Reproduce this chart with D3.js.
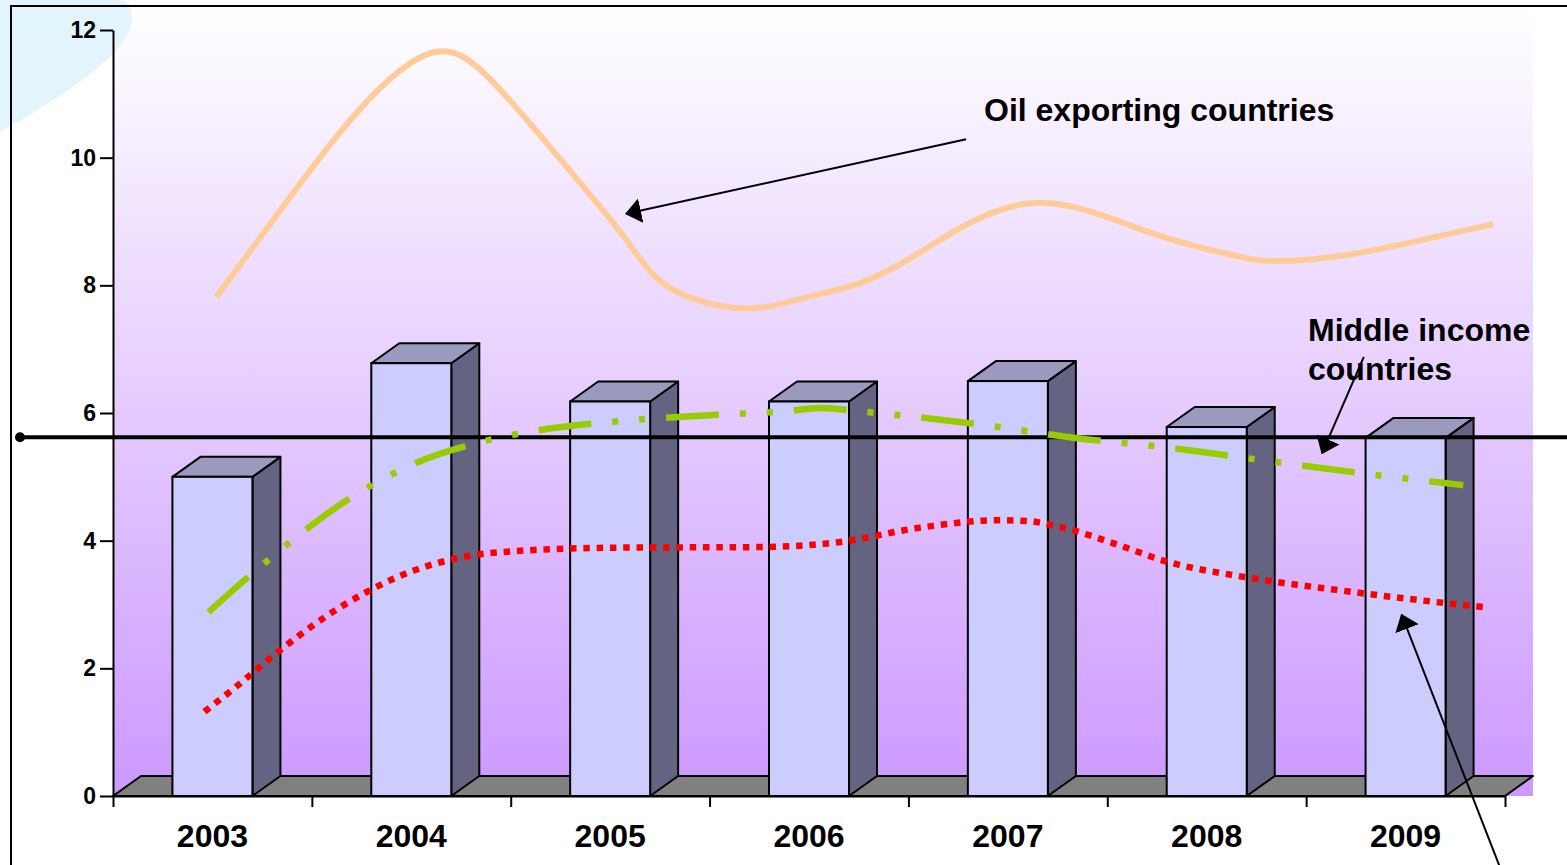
<!DOCTYPE html>
<html>
<head>
<meta charset="utf-8">
<script src="https://cdn.jsdelivr.net/npm/d3@7"></script>
<style>
  body { margin: 0; background: #ffffff; }
  svg { display: block; }
  text { font-family: "Liberation Sans", Arial, Helvetica, sans-serif; font-weight: bold; fill: #000; }
</style>
</head>
<body>
<svg id="chart" width="1567" height="865"></svg>
<script>
// ---- data ----
const years = [2003, 2004, 2005, 2006, 2007, 2008, 2009];
const barValues = [5.00, 6.78, 6.18, 6.18, 6.50, 5.78, 5.61];
const yTicks = [0, 2, 4, 6, 8, 10, 12];
const referenceValue = 5.62;

// Oil exporting countries (smoothed trend, sampled along the curve)
const oilYears  = [2003.02, 2003.39, 2003.73, 2004.10, 2004.40, 2004.74, 2005.07, 2005.30, 2005.67, 2005.97, 2006.27,
                   2006.56, 2006.81, 2007.13, 2007.47, 2007.78, 2008.12, 2008.36, 2008.71, 2009.04, 2009.44];
const oilValues = [7.82, 9.38, 10.72, 11.64, 11.22, 10.01, 8.76, 7.96, 7.64, 7.80, 8.05,
                   8.52, 8.98, 9.29, 9.10, 8.76, 8.48, 8.38, 8.48, 8.68, 8.96];

// Middle income countries
const midYears  = [2002.98, 2003.27, 2003.68, 2004.01, 2004.37, 2004.62, 2005.00, 2005.52, 2005.89, 2006.06,
                   2006.24, 2006.50, 2006.88, 2007.39, 2007.77, 2008.28, 2008.77, 2009.29];
const midValues = [2.88, 3.67, 4.64, 5.20, 5.56, 5.72, 5.86, 5.97, 6.03, 6.08,
                   6.03, 5.95, 5.81, 5.59, 5.47, 5.26, 5.06, 4.87];

// Low income countries
const lowYears  = [2002.96, 2003.13, 2003.33, 2003.66, 2004.02, 2004.21, 2004.41, 2005.02, 2005.76, 2006.16,
                   2006.55, 2006.95, 2007.09, 2007.28, 2007.54, 2007.79, 2008.19, 2008.65, 2009.12, 2009.39];
const lowValues = [1.32, 1.74, 2.26, 2.99, 3.54, 3.71, 3.81, 3.89, 3.90, 3.98,
                   4.20, 4.32, 4.31, 4.20, 3.95, 3.68, 3.43, 3.23, 3.05, 2.96];

// Callout arrows: [tail year, tail value] -> [tip year, tip value]
const oilArrow = [[2006.79, 10.29], [2005.08, 9.12]];
const midArrow = [[2008.79, 6.88], [2008.58, 5.37]];
const lowArrow = [[2009.48, -1.16], [2008.98, 2.84]];

// ---- layout ----
const W = 1567, H = 865;
const plot = { left: 113, right: 1505, top: 30, bottom: 796 };
const depth = { dx: 28, dy: 20 };
const barWidth = 80;

const svg = d3.select("#chart");

const x = d3.scaleBand().domain(years).range([plot.left, plot.right]).padding(0);
const y = d3.scaleLinear().domain([0, 12]).range([plot.bottom, plot.top]);
const center = yr => x(yr) + x.bandwidth() / 2;
const xLine = d3.scaleLinear().domain([2003, 2009]).range([center(2003), center(2009)]);

// ---- defs ----
const defs = svg.append("defs");
const grad = defs.append("linearGradient")
  .attr("id", "wallGrad").attr("gradientUnits", "userSpaceOnUse")
  .attr("x1", 0).attr("y1", 6).attr("x2", 0).attr("y2", plot.bottom);
grad.append("stop").attr("offset", 0).attr("stop-color", "#ffffff");
grad.append("stop").attr("offset", 1).attr("stop-color", "#cc99ff");

defs.append("marker")
  .attr("id", "arrowHead").attr("viewBox", "0 0 16 25")
  .attr("refX", 15).attr("refY", 12.5)
  .attr("markerWidth", 16).attr("markerHeight", 25)
  .attr("markerUnits", "userSpaceOnUse").attr("orient", "auto")
  .append("path").attr("d", "M0,0 L16,12.5 L0,25 Z").attr("fill", "#000");

// ---- back wall ----
svg.append("rect")
  .attr("x", plot.left).attr("y", 6)
  .attr("width", plot.right + depth.dx - plot.left)
  .attr("height", plot.bottom - 6)
  .attr("fill", "url(#wallGrad)");

// decorative swoosh in the corner
svg.append("path")
  .attr("d", "M0,0 L122,0 C140,10 132,34 112,55 C82,84 42,108 0,132 Z")
  .attr("fill", "#e3f5fc");

// frame
svg.append("path")
  .attr("d", `M11,${H + 5} L11,6 L${W + 5},6`)
  .attr("fill", "none").attr("stroke", "#000").attr("stroke-width", 2);

// ---- floor ----
svg.append("polygon")
  .attr("points", [
    [plot.left, plot.bottom], [plot.right, plot.bottom],
    [plot.right + depth.dx, plot.bottom - depth.dy], [plot.left + depth.dx, plot.bottom - depth.dy]
  ].map(p => p.join(",")).join(" "))
  .attr("fill", "#808080").attr("stroke", "#000").attr("stroke-width", 2)
  .attr("stroke-linejoin", "round");

// ---- 3D bars ----
const bars = svg.append("g").attr("class", "bars")
  .selectAll("g").data(years.map((yr, i) => ({ yr, v: barValues[i] })))
  .join("g");

bars.each(function(d) {
  const g = d3.select(this);
  const x0 = center(d.yr) - barWidth / 2, x1 = x0 + barWidth;
  const yt = y(d.v), yb = y(0);
  const pts = a => a.map(p => p.join(",")).join(" ");
  g.append("polygon")
    .attr("points", pts([[x1, yt], [x1 + depth.dx, yt - depth.dy], [x1 + depth.dx, yb - depth.dy], [x1, yb]]))
    .attr("fill", "#646482").attr("stroke", "#000").attr("stroke-width", 2).attr("stroke-linejoin", "round");
  g.append("polygon")
    .attr("points", pts([[x0, yt], [x0 + depth.dx, yt - depth.dy], [x1 + depth.dx, yt - depth.dy], [x1, yt]]))
    .attr("fill", "#9a9abf").attr("stroke", "#000").attr("stroke-width", 2).attr("stroke-linejoin", "round");
  g.append("rect")
    .attr("x", x0).attr("y", yt).attr("width", barWidth).attr("height", yb - yt)
    .attr("fill", "#ccccff").attr("stroke", "#000").attr("stroke-width", 2);
});

// ---- axes ----
const yAxis = svg.append("g")
  .attr("transform", `translate(${plot.left},0)`)
  .call(d3.axisLeft(y).tickValues(yTicks).tickSize(13).tickSizeOuter(0).tickPadding(4));
yAxis.select(".domain").attr("stroke-width", 2);
yAxis.selectAll(".tick line").attr("stroke-width", 2);
yAxis.selectAll(".tick text").style("font-size", "23px")
  .style("font-family", '"Liberation Sans", Arial, sans-serif').style("font-weight", "bold");

const xEdge = d3.scaleLinear().domain([0, years.length]).range([plot.left, plot.right]);
const xAxis = svg.append("g")
  .attr("transform", `translate(0,${plot.bottom})`)
  .call(d3.axisBottom(xEdge).tickValues(d3.range(0, years.length + 1))
    .tickFormat(() => "").tickSize(11).tickSizeOuter(0));
xAxis.select(".domain").attr("stroke-width", 2);
xAxis.selectAll(".tick line").attr("stroke-width", 2);

svg.append("g").selectAll("text").data(years).join("text")
  .attr("x", d => center(d)).attr("y", 847)
  .attr("text-anchor", "middle").style("font-size", "32px")
  .text(d => d);

// ---- reference line ----
svg.append("line")
  .attr("x1", 20).attr("x2", W + 2)
  .attr("y1", y(referenceValue)).attr("y2", y(referenceValue))
  .attr("stroke", "#000").attr("stroke-width", 4);
svg.append("circle").attr("cx", 20).attr("cy", y(referenceValue)).attr("r", 5).attr("fill", "#000");

// ---- trend lines ----
const zip = (a, b) => a.map((v, i) => [v, b[i]]);
const smooth = curve => d3.line().x(d => xLine(d[0])).y(d => y(d[1])).curve(curve);

svg.append("path").datum(zip(oilYears, oilValues)).attr("d", smooth(d3.curveNatural))
  .attr("fill", "none").attr("stroke", "#ffcc99").attr("stroke-width", 6);

svg.append("path").datum(zip(midYears, midValues)).attr("d", smooth(d3.curveMonotoneX))
  .attr("fill", "none").attr("stroke", "#99cc00").attr("stroke-width", 6.5)
  .attr("stroke-dasharray", "53 21 6 21 6 21");

svg.append("path").datum(zip(lowYears, lowValues)).attr("d", smooth(d3.curveMonotoneX))
  .attr("fill", "none").attr("stroke", "#ff0000").attr("stroke-width", 6.5)
  .attr("stroke-dasharray", "6.5 6.8");

// ---- annotations ----
svg.append("text").attr("x", 984).attr("y", 121).style("font-size", "32px").text("Oil exporting countries");
const midLabel = svg.append("text").attr("x", 1308).attr("y", 341).style("font-size", "32px");
midLabel.append("tspan").attr("x", 1308).text("Middle income");
midLabel.append("tspan").attr("x", 1308).attr("dy", 39).text("countries");

[oilArrow, midArrow, lowArrow].forEach(a => {
  svg.append("line")
    .attr("x1", xLine(a[0][0])).attr("y1", y(a[0][1]))
    .attr("x2", xLine(a[1][0])).attr("y2", y(a[1][1]))
    .attr("stroke", "#000").attr("stroke-width", 2)
    .attr("marker-end", "url(#arrowHead)");
});
</script>
</body>
</html>
